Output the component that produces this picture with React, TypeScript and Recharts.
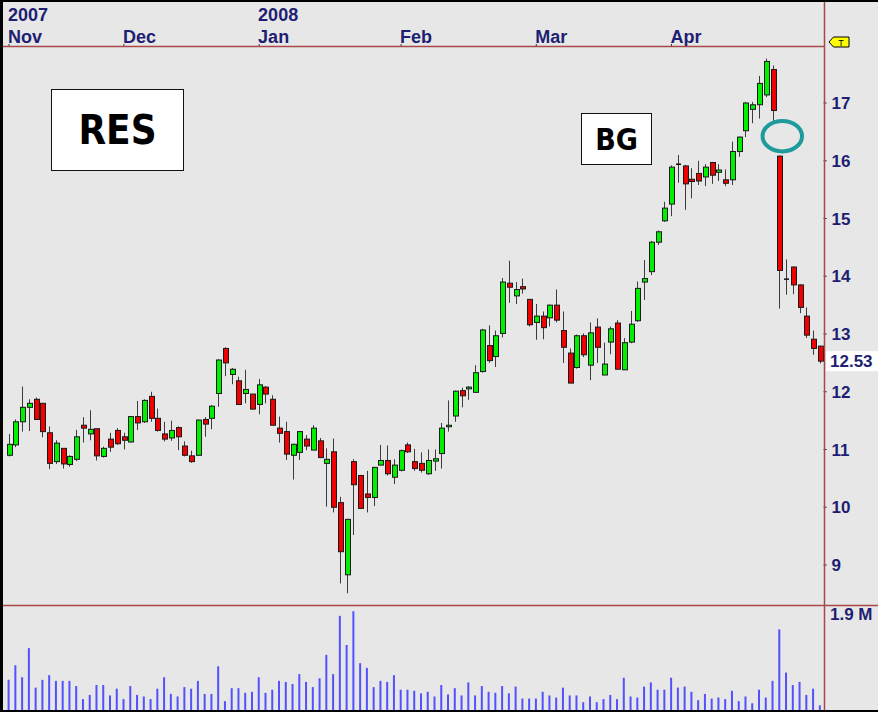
import React from 'react';
import { ComposedChart, Bar, XAxis, YAxis, ReferenceLine } from 'recharts';

// daily OHLC, Nov 2007 - Apr 2008
const opens = [
  10.90, 11.08, 11.48, 11.73, 11.87, 11.80, 11.29, 10.79, 11.02, 10.74,
  10.83, 11.42, 11.27, 11.36, 10.88, 11.18, 11.33, 11.22, 11.13, 11.57,
  11.48, 11.92, 11.54, 11.27, 11.20, 11.38, 11.06, 10.89, 10.90, 11.52,
  11.54, 11.97, 12.75, 12.30, 12.19, 11.97, 11.96, 11.78, 12.08, 11.87,
  11.37, 11.31, 10.90, 10.95, 11.18, 10.99, 11.15, 10.76, 10.96, 10.08,
  8.83, 10.79, 10.55, 10.23, 10.17, 10.73, 10.81, 10.52, 10.64, 11.08,
  10.79, 10.76, 10.58, 10.80, 10.93, 11.40, 11.58, 12.02, 12.05, 11.99,
  12.35, 12.80, 12.61, 13.01, 13.88, 13.66, 13.82, 13.60, 13.20, 13.31,
  13.28, 13.50, 13.06, 12.67, 12.42, 12.97, 12.46, 13.12, 12.29, 12.86,
  13.19, 12.38, 12.86, 13.23, 13.90, 14.08, 14.59, 14.96, 15.25, 15.94,
  15.91, 15.68, 15.78, 15.72, 15.97, 15.80, 15.67, 15.67, 16.16, 16.52,
  16.89, 16.97, 17.14, 17.58, 16.08, 13.95, 14.16, 13.85, 13.31, 12.91,
  12.79,
];
const highs = [
  11.27, 11.52, 12.09, 11.87, 11.90, 11.80, 11.40, 11.16, 11.02, 10.90,
  11.34, 11.56, 11.68, 11.36, 11.05, 11.29, 11.37, 11.29, 11.58, 11.84,
  11.87, 12.00, 11.71, 11.48, 11.50, 11.40, 11.14, 10.98, 11.52, 11.56,
  11.77, 12.56, 12.77, 12.41, 12.26, 12.38, 11.96, 12.22, 12.10, 11.94,
  11.57, 11.48, 11.10, 11.32, 11.25, 11.42, 11.20, 11.02, 11.19, 10.18,
  9.80, 10.83, 10.56, 10.63, 10.70, 11.08, 11.07, 10.83, 11.00, 11.12,
  11.01, 10.95, 11.00, 11.00, 11.46, 11.85, 12.02, 12.07, 12.10, 12.46,
  13.09, 13.15, 13.06, 13.97, 14.27, 13.90, 13.96, 13.60, 13.52, 13.39,
  13.51, 13.77, 13.39, 12.75, 12.99, 13.01, 13.20, 13.27, 12.85, 13.13,
  13.24, 12.93, 13.40, 13.91, 14.28, 14.61, 14.79, 15.29, 15.92, 16.10,
  15.93, 15.87, 16.00, 15.94, 15.98, 15.94, 15.85, 16.33, 16.42, 17.02,
  17.02, 17.47, 17.77, 17.65, 16.09, 14.29, 14.17, 13.86, 13.46, 13.06,
  12.80,
];
const lows = [
  10.88, 11.04, 11.31, 11.32, 11.52, 11.21, 10.66, 10.75, 10.67, 10.70,
  10.80, 11.12, 11.16, 10.81, 10.86, 10.96, 11.08, 11.00, 11.12, 11.34,
  11.46, 11.48, 11.31, 11.14, 11.15, 10.99, 10.88, 10.77, 10.90, 11.22,
  11.35, 11.74, 12.27, 12.13, 11.77, 11.80, 11.69, 11.61, 11.80, 11.42,
  11.12, 10.82, 10.48, 10.82, 10.99, 10.99, 10.85, 10.01, 9.91, 8.68,
  8.51, 9.52, 9.97, 9.91, 10.02, 10.73, 10.55, 10.40, 10.62, 10.94,
  10.63, 10.60, 10.56, 10.63, 10.67, 11.31, 11.48, 11.73, 11.86, 11.98,
  12.33, 12.50, 12.43, 12.94, 13.54, 13.52, 13.70, 13.13, 12.90, 12.91,
  13.13, 13.20, 12.50, 12.15, 12.40, 12.60, 12.20, 12.50, 12.29, 12.65,
  12.39, 12.38, 12.84, 13.21, 13.59, 14.02, 14.54, 14.94, 15.04, 15.62,
  15.15, 15.35, 15.58, 15.56, 15.60, 15.65, 15.56, 15.58, 16.07, 16.41,
  16.65, 16.73, 17.10, 16.69, 13.44, 13.68, 13.69, 13.36, 12.93, 12.64,
  12.49,
];
const closes = [
  11.09, 11.48, 11.73, 11.80, 11.52, 11.31, 10.76, 11.11, 10.75, 10.88,
  11.22, 11.37, 11.35, 10.89, 11.02, 11.04, 11.10, 11.16, 11.57, 11.46,
  11.85, 11.54, 11.33, 11.18, 11.33, 11.22, 10.90, 10.79, 11.51, 11.44,
  11.75, 12.55, 12.50, 12.39, 11.78, 12.04, 11.70, 12.12, 11.96, 11.42,
  11.28, 10.92, 11.09, 11.31, 11.06, 11.37, 10.86, 10.83, 10.00, 9.23,
  9.79, 10.39, 9.98, 10.17, 10.69, 10.81, 10.58, 10.73, 10.98, 10.96,
  10.67, 10.64, 10.81, 10.84, 11.37, 11.42, 12.01, 11.93, 12.08, 12.33,
  13.07, 12.54, 12.97, 13.90, 13.81, 13.77, 13.78, 13.16, 13.31, 13.11,
  13.50, 13.24, 12.77, 12.15, 12.97, 12.64, 13.02, 12.77, 12.48, 13.09,
  12.39, 12.85, 13.17, 13.79, 13.96, 14.59, 14.77, 15.18, 15.89, 15.94,
  15.60, 15.64, 15.65, 15.89, 15.75, 15.84, 15.61, 16.16, 16.41, 17.00,
  16.97, 17.34, 17.72, 16.87, 14.10, 13.95, 13.85, 13.46, 12.98, 12.75,
  12.53,
];
// volume in millions
const volumes = [
  0.58, 0.86, 0.63, 1.19, 0.43, 0.58, 0.67, 0.56, 0.56, 0.56,
  0.46, 0.21, 0.29, 0.48, 0.48, 0.28, 0.41, 0.21, 0.46, 0.29,
  0.26, 0.21, 0.41, 0.63, 0.31, 0.26, 0.44, 0.41, 0.56, 0.31,
  0.31, 0.84, 0.17, 0.42, 0.42, 0.33, 0.35, 0.63, 0.33, 0.39,
  0.56, 0.54, 0.50, 0.69, 0.54, 0.44, 0.61, 1.06, 0.69, 1.81,
  1.25, 1.90, 0.90, 0.81, 0.44, 0.56, 0.54, 0.67, 0.39, 0.39,
  0.37, 0.32, 0.35, 0.26, 0.48, 0.30, 0.42, 0.28, 0.53, 0.28,
  0.46, 0.35, 0.33, 0.46, 0.32, 0.45, 0.22, 0.22, 0.22, 0.35,
  0.28, 0.24, 0.43, 0.28, 0.28, 0.15, 0.26, 0.15, 0.21, 0.29,
  0.21, 0.62, 0.26, 0.24, 0.45, 0.53, 0.39, 0.39, 0.62, 0.43,
  0.45, 0.35, 0.19, 0.31, 0.22, 0.24, 0.21, 0.37, 0.17, 0.26,
  0.13, 0.39, 0.24, 0.56, 1.55, 0.72, 0.48, 0.54, 0.29, 0.41,
  0.09,
];

const tickIdx = [0, 17, 37, 58, 78, 98];
const monthLabels = ['Nov', 'Dec', 'Jan', 'Feb', 'Mar', 'Apr'];
const yearLabels = ['2007', '', '2008', '', '', ''];
const priceTicks = [9, 10, 11, 12, 13, 14, 15, 16, 17];
const volumeTicks = [1.9];
const lastPrice = 12.53;

const data = closes.map((c, i) => ({
  i,
  open: opens[i],
  high: highs[i],
  low: lows[i],
  close: c,
  vol: volumes[i],
}));

const NAVY = '#1e1e72';
const AXIS_RED = '#a94848';
const FONT = '"Liberation Sans", Arial, sans-serif';
const BOX_FONT = '"Liberation Sans Narrow", "DejaVu Sans Condensed", sans-serif';

const Candle = (props: any) => {
  const { x, y, width, height, payload } = props;
  if (!payload) return null;
  const { open, close, high, low } = payload;
  const c = Math.round(x + width / 2);
  const top = Math.min(y, y + height);
  const h = Math.abs(height);
  const k = high > low ? h / (high - low) : 0;
  const py = (p: number) => top + (high - p) * k;
  const yo = py(open);
  const yc = py(close);
  const flat = Math.abs(close - open) < 0.005;
  return (
    <g>
      <line x1={c + 0.5} x2={c + 0.5} y1={top} y2={top + h} stroke="#3c3c3c" strokeWidth={1} />
      {flat ? (
        <line x1={c - 2} x2={c + 3} y1={yo} y2={yo} stroke="#111" strokeWidth={1.5} />
      ) : (
        <rect
          x={c - 1.5}
          y={Math.min(yo, yc)}
          width={5}
          height={Math.max(Math.abs(yo - yc), 1.5)}
          fill={close > open ? '#00f000' : '#f00000'}
          stroke="#1a1a1a"
          strokeWidth={1}
        />
      )}
    </g>
  );
};

const DateTick = (props: any) => {
  const { x, payload } = props;
  const k = tickIdx.indexOf(payload.value);
  if (k < 0) return null;
  return (
    <g>
      <line x1={x} x2={x} y1={44} y2={46} stroke="#333" />
      {yearLabels[k] && (
        <text x={x - 1} y={21} fill={NAVY} fontSize={18} fontWeight="bold" fontFamily={FONT}>
          {yearLabels[k]}
        </text>
      )}
      <text x={x - 1} y={43} fill={NAVY} fontSize={18} fontWeight="bold" fontFamily={FONT}>
        {monthLabels[k]}
      </text>
    </g>
  );
};

const VolTick = (props: any) => {
  const { y, payload } = props;
  return (
    <text x={830} y={y + 9} fill={NAVY} fontSize={17} fontWeight="bold" fontFamily={FONT}>
      {`${payload.value} M`}
    </text>
  );
};

const LastLabel = (props: any) => {
  const { viewBox } = props;
  const yy = viewBox.y;
  return (
    <g>
      <rect x={826} y={yy - 10} width={52} height={20} fill="#ffffff" />
      <text x={830} y={yy + 6} fill={NAVY} fontSize={17} fontWeight="bold" fontFamily={FONT}>
        {lastPrice.toFixed(2)}
      </text>
    </g>
  );
};

const App: React.FC = () => {
  const tickStyle = { fill: NAVY, fontSize: 17, fontWeight: 'bold', fontFamily: FONT };
  return (
    <div
      style={{
        position: 'absolute',
        left: 0,
        top: 0,
        width: 878,
        height: 712,
        background: '#e7e7e7',
        overflow: 'hidden',
        fontFamily: FONT,
      }}
    >
      {/* price panel */}
      <div style={{ position: 'absolute', left: 0, top: 0 }}>
        <ComposedChart width={878} height={606} data={data} margin={{ top: 0, right: 0, left: 5.6, bottom: 0 }}>
          <XAxis
            dataKey="i"
            orientation="top"
            height={47}
            ticks={tickIdx}
            interval={0}
            axisLine={false}
            tickLine={false}
            tick={<DateTick />}
          />
          <YAxis
            orientation="right"
            width={54.4}
            domain={[8.29, 17.97]}
            ticks={priceTicks}
            interval={0}
            allowDataOverflow
            axisLine={false}
            tickSize={3}
            tickMargin={5}
            tickLine={{ stroke: NAVY }}
            tick={tickStyle}
          />
          <Bar dataKey={(d: any) => [d.low, d.high]} barSize={6} shape={<Candle />} isAnimationActive={false} />
          <ReferenceLine y={lastPrice} stroke="none" ifOverflow="visible" label={<LastLabel />} />
        </ComposedChart>
      </div>

      {/* volume panel */}
      <div style={{ position: 'absolute', left: 0, top: 606 }}>
        <ComposedChart width={878} height={104} data={data} margin={{ top: 0, right: 0, left: 5.6, bottom: 0 }}>
          <XAxis dataKey="i" hide />
          <YAxis
            orientation="right"
            width={54.4}
            domain={[0, 2]}
            ticks={volumeTicks}
            interval={0}
            allowDataOverflow
            axisLine={false}
            tickLine={false}
            tick={<VolTick />}
          />
          <Bar dataKey="vol" fill="#5151ff" barSize={2} isAnimationActive={false} />
        </ComposedChart>
      </div>

      {/* frame, panel dividers and annotations */}
      <svg width={878} height={712} style={{ position: 'absolute', left: 0, top: 0, pointerEvents: 'none' }}>
        <line x1={3} x2={824} y1={46.5} y2={46.5} stroke={AXIS_RED} strokeWidth={1.5} />
        <line x1={3} x2={878} y1={605.5} y2={605.5} stroke={AXIS_RED} strokeWidth={1.5} />
        <line x1={824.5} x2={824.5} y1={0} y2={712} stroke={AXIS_RED} strokeWidth={1.5} />
        <rect x={0} y={0} width={878} height={2} fill="#000" />
        <rect x={0} y={0} width={3} height={712} fill="#000" />
        <rect x={0} y={710} width={878} height={2} fill="#000" />
        <ellipse cx={782.3} cy={136.2} rx={19.7} ry={15.2} fill="none" stroke="#1d9a9c" strokeWidth={4} />
        <polygon points="829,42 833.5,37 849,37 849,47 833.5,47" fill="#ffff00" stroke="#000" strokeWidth={1} />
        <text x={841} y={45.5} fontSize={9} fontFamily={FONT} textAnchor="middle" fill="#000">T</text>
      </svg>

      <div
        style={{
          position: 'absolute',
          left: 51,
          top: 89,
          width: 131,
          height: 80,
          background: '#fff',
          border: '1.5px solid #111',
          display: 'flex',
          alignItems: 'center',
          justifyContent: 'center',
          fontFamily: BOX_FONT,
          fontWeight: 'bold',
          fontSize: 40,
          color: '#000',
        }}
      >
        RES
      </div>
      <div
        style={{
          position: 'absolute',
          left: 581,
          top: 113,
          width: 69,
          height: 50,
          background: '#fff',
          border: '1.5px solid #111',
          display: 'flex',
          alignItems: 'center',
          justifyContent: 'center',
          fontFamily: BOX_FONT,
          fontWeight: 'bold',
          fontSize: 30,
          color: '#000',
        }}
      >
        BG
      </div>
    </div>
  );
};

export default App;
